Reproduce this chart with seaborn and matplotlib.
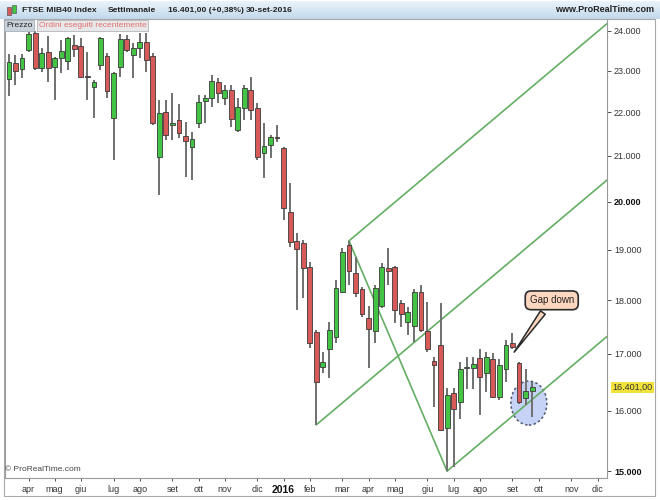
import numpy as np
import pandas as pd
import matplotlib
matplotlib.use("Agg")
import matplotlib.pyplot as plt
from matplotlib.patches import Ellipse, Rectangle
from matplotlib.colors import LinearSegmentedColormap
import seaborn as sns

# FTSE MIB, candele settimanali (chiusura venerdi), 20-mar-2015 .. 30-set-2016
first_week = "2015-03-20"
opens = [22800, 23190, 23050, 23520, 23950, 23070, 23470, 23100, 23320, 23240,
         23640, 23620, 22880, 22610, 23140, 23370, 21870, 23100, 23800, 23390,
         23570, 23720, 23370, 20980, 22010, 21710, 21830, 21460, 21210, 21760,
         22270, 22340, 22730, 22340, 22540, 21590, 22110, 22540, 22110, 21070,
         21250, 21430, 21180, 19790, 19180, 19140, 18660, 17410, 16770, 17090,
         17310, 18170, 19100, 18540, 18220, 17670, 17420, 17900, 18640, 18660,
         17940, 17590, 17520, 18170, 17420, 16880, 17170, 15700, 16310, 16140,
         16750, 16750, 16930, 16660, 16900, 16240, 16730, 17200, 16840, 16220,
         16340]
highs = [23420, 23390, 23420, 23970, 24000, 23570, 23870, 23340, 23770, 23850,
         23900, 23820, 23470, 22780, 23850, 23440, 22970, 23920, 23900, 23690,
         23950, 23950, 23440, 22300, 22300, 22460, 22200, 21780, 21550, 22420,
         22420, 22900, 22830, 22660, 22660, 22340, 22660, 22850, 22220, 21760,
         21480, 21710, 21210, 20410, 19350, 19200, 18760, 17440, 17040, 17590,
         18400, 19040, 19180, 18860, 18260, 17900, 18300, 18740, 19040, 18680,
         18010, 17880, 18210, 18300, 17970, 16950, 17950, 16400, 16400, 16860,
         16950, 16950, 17090, 17040, 17020, 16900, 17260, 17390, 16860, 16720,
         16490]
lows = [22390, 22660, 22830, 23470, 23020, 22970, 22730, 22300, 22950, 23020,
        23340, 22830, 22300, 21870, 23020, 22340, 20910, 22850, 23470, 22830,
        23320, 22970, 21710, 20150, 21370, 21370, 21410, 20540, 20470, 21640,
        21760, 22130, 22220, 22180, 21660, 21550, 21830, 21830, 20910, 20520,
        20960, 21320, 19620, 19060, 17820, 18050, 17110, 15760, 16660, 16560,
        17200, 18150, 18300, 18070, 17690, 16750, 17200, 17860, 18300, 17570,
        17500, 17350, 17220, 17410, 17040, 16070, 15660, 15000, 15070, 15850,
        16380, 16380, 15930, 16330, 16220, 16190, 16500, 17090, 16120, 16100,
        15900]
closes = [23220, 23000, 23320, 23920, 23070, 23440, 23070, 23320, 23490, 23820,
          23540, 22850, 22850, 22730, 23820, 22510, 22950, 23800, 23520, 23570,
          23720, 23270, 21760, 21990, 21480, 21760, 21530, 21340, 21390, 22250,
          22340, 22750, 22460, 22540, 21850, 22130, 22580, 22060, 20980, 21230,
          21430, 21410, 19870, 19160, 19020, 18640, 17200, 16490, 16860, 17440,
          18240, 18960, 18580, 18150, 17730, 17460, 18240, 18660, 18580, 17820,
          17730, 17780, 18170, 17440, 17080, 16800, 15680, 16270, 16020, 16720,
          16760, 16820, 16590, 16950, 16240, 16800, 17170, 17130, 16140, 16340,
          16401]

# pitchfork di Andrews: minimo, massimo, minimo (indice candela)
pivot_a, pivot_b, pivot_c = 47, 52, 67

mesi = ["gen", "feb", "mar", "apr", "mag", "giu", "lug", "ago", "set", "ott", "nov", "dic"]
price_ticks = [15000, 16000, 17000, 18000, 19000, 20000, 21000, 22000, 23000, 24000]
last_price = 16401

GREEN = "#44c444"
RED = "#d85a58"
FORK = "#64ae64"

sns.set_theme(style="white")
plt.rcParams["font.family"] = ["Liberation Sans", "DejaVu Sans"]

W, H = 660, 500
fig = plt.figure(figsize=(6.6, 5.0), dpi=100)
fig.patch.set_facecolor("white")
ax = fig.add_axes([5 / W, 22 / H, 602 / W, 458 / H])

n_weeks = 92
weeks = pd.date_range(first_week, periods=n_weeks, freq="W-FRI")
mondays = weeks - pd.Timedelta(days=4)
idx = np.arange(len(opens))
o = np.array(opens, float)
c = np.array(closes, float)
up = c >= o
body_lo = np.minimum(o, c)
body_h = np.maximum(np.abs(c - o), 10)

# candele
ax.vlines(idx, lows, highs, color="#707070", lw=1.4, zorder=3)
ax.bar(idx, body_h, bottom=body_lo, width=0.74,
       color=np.where(up, GREEN, RED), edgecolor="#3a3a3a", linewidth=0.6, zorder=4)

ax.set_yscale("log")
ax.set_xlim(-0.6, 91.45)
ax.set_ylim(14890, 24280)

# pitchfork
x_end = 91.45
la, lb, lc = np.log(lows[pivot_a]), np.log(highs[pivot_b]), np.log(lows[pivot_c])
mx, my = (pivot_b + pivot_c) / 2, (lb + lc) / 2
slope = (my - la) / (mx - pivot_a)
fork = [
    ([pivot_a, x_end], [la, la + slope * (x_end - pivot_a)]),
    ([pivot_b, x_end], [lb, lb + slope * (x_end - pivot_b)]),
    ([pivot_c, x_end], [lc, lc + slope * (x_end - pivot_c)]),
    ([pivot_b, pivot_c], [lb, lc]),
]
for xs, ys in fork:
    sns.lineplot(x=xs, y=np.exp(ys), ax=ax, color=FORK, lw=1.2, zorder=2)

# cerchio sulle ultime candele
cx, cy = ax.transAxes.inverted().transform(ax.transData.transform((79.5, 16130)))
ax.add_patch(Ellipse((cx, cy), 36 / 602, 44 / 458, transform=ax.transAxes,
                     fc=(0.74, 0.80, 0.96, 0.85), ec="#4e566e", ls=(0, (1.6, 1.6)),
                     lw=1.1, zorder=1.5))

# gap down
ax.annotate("Gap down", xy=(77.0, 16990), xytext=(83.0, 18000),
            fontsize=7, color="#222222", ha="center", va="center", zorder=6,
            bbox=dict(boxstyle="round,pad=0.45,rounding_size=0.6", fc="#fcd6bf", ec="#2a2a2a", lw=1.2),
            arrowprops=dict(arrowstyle="wedge,tail_width=0.6,shrink_factor=0.5",
                            fc="#fcd6bf", ec="#2a2a2a", lw=1.1))

# asse prezzi a destra
ax.yaxis.tick_right()
ax.yaxis.set_minor_locator(matplotlib.ticker.NullLocator())
ax.set_yticks(price_ticks)
ax.set_yticklabels([f"{v:,}".replace(",", ".") for v in price_ticks])
ax.tick_params(axis="y", right=True, length=3, width=0.6, pad=2, labelsize=6.5,
               colors="#333333", direction="out")
for t, v in zip(ax.get_yticklabels(), price_ticks):
    if v % 5000 == 0:
        t.set_fontweight("bold")
        t.set_color("#111111")

ax.annotate(f"{last_price:,.2f}".replace(",", "X").replace(".", ",").replace("X", "."),
            xy=(1, last_price), xycoords=("axes fraction", "data"),
            xytext=(4, 0), textcoords="offset points", fontsize=6.5, color="#333333",
            va="center", ha="left", annotation_clip=False, zorder=7,
            bbox=dict(boxstyle="square,pad=0.15", fc="#f3e23a", ec="none"))

# asse tempo: etichetta sulla prima settimana che inizia nel nuovo mese
tick_pos, tick_lab = [], []
for i in range(1, n_weeks):
    if mondays[i].month != mondays[i - 1].month:
        tick_pos.append(i)
        m = mondays[i]
        tick_lab.append(str(m.year) if m.month == 1 else mesi[m.month - 1])
ax.set_xticks(tick_pos)
ax.set_xticklabels(tick_lab)
ax.tick_params(axis="x", bottom=True, length=2, width=0.6, pad=3, labelsize=6.5,
               colors="#333333", direction="out")
for t in ax.get_xticklabels():
    if t.get_text().isdigit():
        t.set_fontweight("bold")
        t.set_fontsize(7.5)
        t.set_color("#111111")

for side in ["left", "right", "bottom"]:
    ax.spines[side].set_color("#9a9a9a")
    ax.spines[side].set_linewidth(0.8)
ax.spines["top"].set_visible(False)
ax.grid(False)

ax.text(0.0, 0.018, "\u00a9 ProRealTime.com", transform=ax.transAxes, fontsize=6,
        color="#444444", ha="left", va="center", zorder=6)

# barra del titolo
bar = fig.add_axes([0, 1 - 19 / H, 1, 18 / H])
grad = np.linspace(0, 1, 20).reshape(-1, 1)
bar.imshow(grad, aspect="auto", extent=[0, 1, 0, 1],
           cmap=LinearSegmentedColormap.from_list("bar", ["#eaf3fa", "#c2d9ec"]))
bar.set_axis_off()

ty = 1 - 10 / H
fig.patches.append(Rectangle((7 / W, 1 - 15 / H), 4 / W, 8 / H, transform=fig.transFigure,
                             fc=RED, ec="#444444", lw=0.4))
fig.patches.append(Rectangle((12 / W, 1 - 13 / H), 4 / W, 8 / H, transform=fig.transFigure,
                             fc=GREEN, ec="#444444", lw=0.4))
for x0, s in [(22, "FTSE MIB40 Index"), (108, "Settimanale"),
              (168, "16.401,00 (+0,38%)"), (246, "30-set-2016")]:
    fig.text(x0 / W, ty, s, fontsize=6.1, fontweight="bold", color="#222222",
             ha="left", va="center")
fig.text(654 / W, ty, "www.ProRealTime.com", fontsize=6.5, fontweight="bold",
         color="#222222", ha="right", va="center")

fig.text(6 / W, 1 - 25.5 / H, "Prezzo", fontsize=6, color="#222222", ha="left", va="center",
         bbox=dict(boxstyle="square,pad=0.2", fc="#c9d2da", ec="#9aa4ae", lw=0.5))
fig.text(39 / W, 1 - 25.5 / H, "Ordini eseguiti recentemente", fontsize=6, color="#e07070",
         ha="left", va="center",
         bbox=dict(boxstyle="square,pad=0.2", fc="#e8e8ea", ec="#a8a8a8", lw=0.5))

# cornice
fig.patches.append(Rectangle((4 / W, 4 / H), 651 / W, 477 / H, transform=fig.transFigure,
                             fill=False, ec="#a8a8a8", lw=0.8))

fig.savefig("out.png", dpi=100)
